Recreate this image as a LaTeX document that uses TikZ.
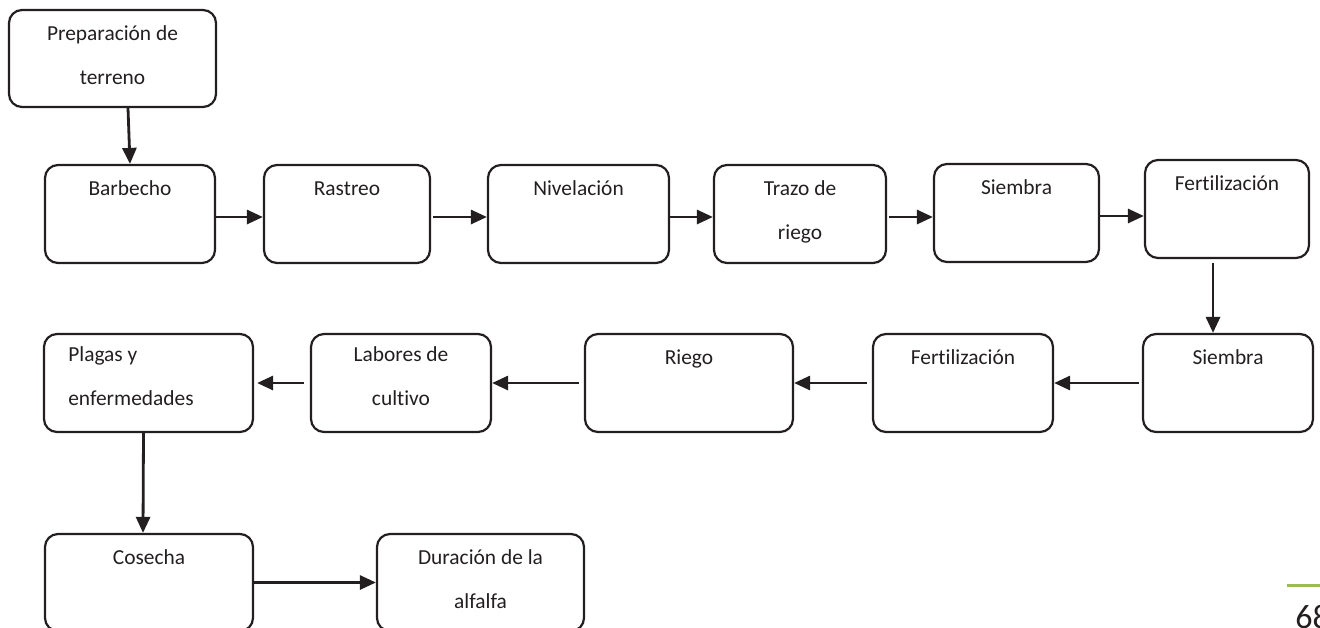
\documentclass[tikz,border=0pt]{standalone}
\usepackage{fontspec}
\setmainfont{Carlito}[Ligatures=NoCommon]
\usetikzlibrary{arrows.meta}
\definecolor{ink}{HTML}{231F20}
\definecolor{barverde}{HTML}{9BBB59}

\begin{document}
\begin{tikzpicture}[x=0.5pt, y=-0.5pt,
    caja/.style={draw=ink, line width=1.1pt, rounded corners=6.5pt, inner sep=0pt},
    txt/.style={text=ink, font=\fontsize{10.7}{22}\selectfont, align=center,
      anchor=base, yshift=-16pt, inner sep=0pt},
    dos/.style={yshift=-22pt},
    flecha/.style={draw=ink, line width=1.4pt, -{Triangle[length=8pt, width=7pt]}}]
    \useasboundingbox (0, 0) rectangle (1320, 627) ;
    \clip (0, 0) rectangle (1320, 627) ;
    \node[caja, minimum width=103.5pt, minimum height=48.5pt,
      label={[txt, dos]north:{Preparación de\\terreno}}] (prep) at (112.5, 58.5) {} ;
    \node[caja, minimum width=85pt, minimum height=49pt,
      label={[txt]north:{Barbecho}}] (barb) at (130, 214) {} ;
    \node[caja, minimum width=83pt, minimum height=49pt,
      label={[txt]north:{Rastreo}}] (rast) at (347, 214) {} ;
    \node[caja, minimum width=90.5pt, minimum height=49pt,
      label={[txt]north:{Nivelación}}] (nive) at (578.5, 214) {} ;
    \node[caja, minimum width=86pt, minimum height=49pt,
      label={[txt, dos]north:{Trazo de\\riego}}] (traz) at (800, 214) {} ;
    \node[caja, minimum width=82.5pt, minimum height=49pt,
      label={[txt]north:{Siembra}}] (siem) at (1016.5, 213) {} ;
    \node[caja, minimum width=82pt, minimum height=49pt,
      label={[txt]north:{Fertilización}}] (fert) at (1227, 209) {} ;
    \node[caja, minimum width=85pt, minimum height=49pt,
      label={[txt]north:{Siembra}}] (siem2) at (1228, 383) {} ;
    \node[caja, minimum width=90pt, minimum height=49pt,
      label={[txt]north:{Fertilización}}] (fert2) at (963, 383) {} ;
    \node[caja, minimum width=104pt, minimum height=49pt,
      label={[txt]north:{Riego}}] (riego) at (689, 383) {} ;
    \node[caja, minimum width=90pt, minimum height=49pt,
      label={[txt, dos, yshift=1.5pt]north:{Labores de\\cultivo}}] (labo) at (401, 383) {} ;
    \node[caja, minimum width=104.5pt, minimum height=49pt,
      label={[txt, dos, yshift=1.5pt, align=left, anchor=base west, xshift=12.5pt]north west:{Plagas y\\enfermedades}}] (plag) at (148.5, 383) {} ;
    \node[caja, minimum width=104pt, minimum height=48.5pt,
      label={[txt]north:{Cosecha}}] (cose) at (149, 582.5) {} ;
    \node[caja, minimum width=103.5pt, minimum height=48.5pt,
      label={[txt, dos]north:{Duración de la\\alfalfa}}] (dura) at (480.5, 582.5) {} ;
    \draw[flecha] ([xshift=7.75pt]prep.south) -- (barb.north) ;
    \draw[flecha] ([yshift=-1.5pt]barb.east) -- ([yshift=-1.5pt]rast.west) ;
    \draw[flecha, shorten <=1pt] ([yshift=-1.5pt]rast.east) -- ([yshift=-1.5pt]nive.west) ;
    \draw[flecha] ([yshift=-1.5pt]nive.east) -- ([yshift=-1.5pt]traz.west) ;
    \draw[flecha, shorten <=1pt] ([yshift=-1.5pt]traz.east) -- ([yshift=-1.5pt]traz.east -| siem.west) ;
    \draw[flecha] ([yshift=-1.5pt]siem.east) -- ([yshift=-1.5pt]siem.east -| fert.west) ;
    \draw[flecha, shorten <=2pt] ([xshift=-7pt]fert.south) -- ([xshift=-7.5pt]siem2.north) ;
    \draw[flecha, shorten <=1.5pt] (siem2) -- (fert2) ;
    \draw[flecha, shorten <=2.5pt] (fert2) -- (riego) ;
    \draw[flecha, shorten <=2.5pt] (riego) -- (labo) ;
    \draw[flecha, shorten <=3pt, shorten >=1.5pt] (labo) -- (plag) ;
    \draw[flecha] ([xshift=-2.5pt]plag.south) -- ([xshift=-3pt]cose.north) ;
    \draw[flecha] (cose) -- (dura) ;
    \draw[barverde, line width=1.5pt] (1287, 585.5) -- (1320, 585.5) ;
    \node[text=ink, font=\fontsize{17}{20}\selectfont, anchor=base west, inner sep=0pt] (pag) at (1295, 628) {68} ;
\end{tikzpicture}
\end{document}
